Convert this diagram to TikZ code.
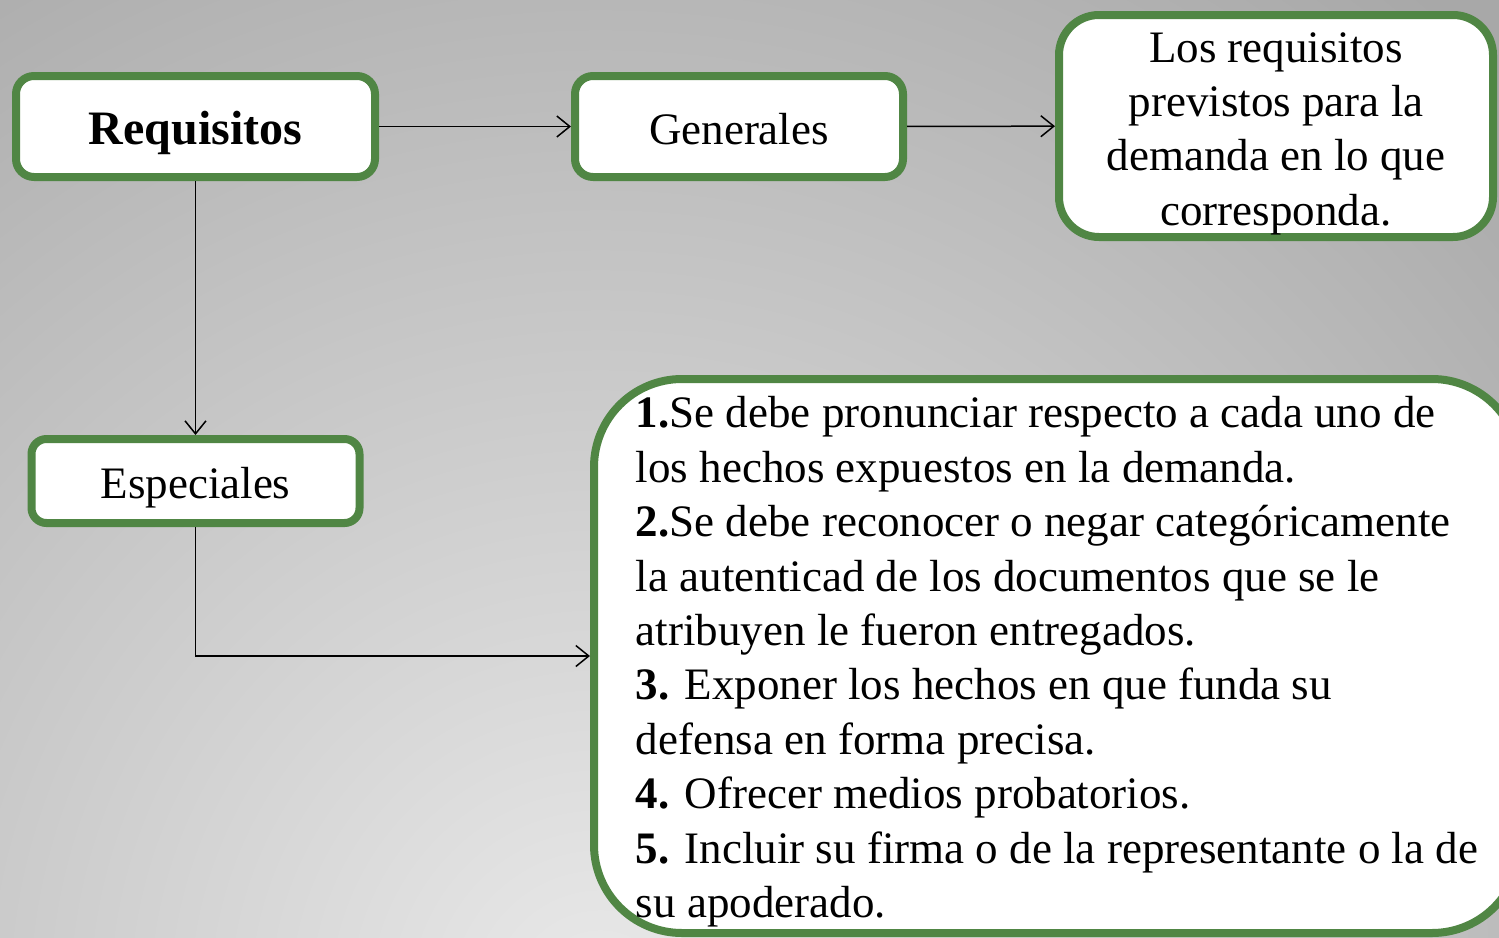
\documentclass[tikz,border=0pt]{standalone}
\usepackage{fontspec}
\setmainfont{Liberation Serif}
\usepackage{tikz}
\usetikzlibrary{arrows.meta}
\definecolor{boxgreen}{RGB}{80,134,68}
\definecolor{bginner}{RGB}{233,233,233}
\definecolor{bgouter}{RGB}{168,168,168}

\begin{document}
\begin{tikzpicture}[
  x=1pt, y=-1pt,
  block/.style={rectangle, draw=boxgreen, line width=8pt, fill=white, rounded corners=18pt, minimum width=328pt, minimum height=101pt, inner sep=0pt, align=center, font=\fontsize{45}{54.4}\selectfont},
  oneline/.style={text height=35pt, text depth=0pt},
  arrow/.style={-{Straight Barb[length=13pt,width=21pt]}, line width=1.5pt}
]

% Background
\useasboundingbox (0,0) rectangle (1499,937);
\clip (0,0) rectangle (1499,937);
\fill[bgouter] (0,0) rectangle (1499,937);
\shade[inner color=bginner, outer color=bgouter] (600,1000) circle (1300);

% Main
\node[block, oneline, minimum width=359pt, font=\fontsize{48}{54.4}\selectfont\bfseries] (req) at (195.5,126.5) {Requisitos};

% Generales
\node[block, oneline] (gen) at (739,126.5) {Generales};
\node[block, minimum width=434pt, minimum height=222pt, rounded corners=40pt] (prev) at (1276,126) {\rule{0pt}{45pt}Los requisitos\\previstos para la\\demanda en lo que\\corresponda.};

% Especiales
\node[block, oneline, minimum height=84pt, rounded corners=15pt] (esp) at (195.5,481) {Especiales};
\node[block, minimum width=926pt, minimum height=554pt, rounded corners=88pt, align=left] (list) at (1057,656) {\rule{0pt}{43pt}\textbf{1.}Se debe pronunciar respecto a cada uno de\\
los hechos expuestos en la demanda.\\
\textbf{2.}Se debe reconocer o negar categóricamente\\
la autenticad de los documentos que se le\\
atribuyen le fueron entregados.\\
\textbf{3.} Exponer los hechos en que funda su\\
defensa en forma precisa.\\
\textbf{4.} Ofrecer medios probatorios.\\
\textbf{5.} Incluir su firma o de la representante o la de\\
su apoderado.};

% Arrows
\draw[arrow] (req) -- (gen);
\draw[arrow] (gen) -- (prev);
\draw[arrow] (req) -- (esp);
\draw[arrow] (esp.south) |- (list.west);

\end{tikzpicture}
\end{document}
